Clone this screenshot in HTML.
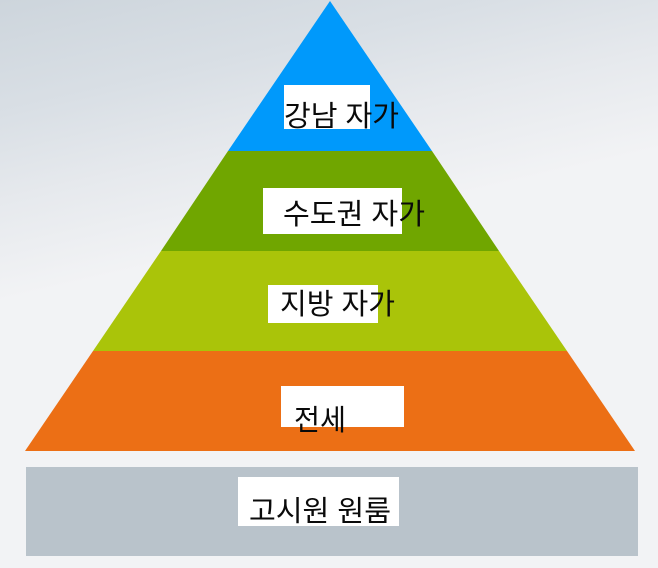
<!DOCTYPE html>
<html lang="ko">
<head>
<meta charset="utf-8">
<style>
html,body{margin:0;padding:0;}
body{width:658px;height:568px;overflow:hidden;position:relative;background:linear-gradient(167deg,#cdd5dc 0%,#d9dfe5 16%,#e6e9ed 28%,#f2f3f5 42%,#f2f3f5 100%);}
svg{position:absolute;left:0;top:0;}
text{font-family:"Liberation Sans","Noto Sans CJK KR","NanumGothic",sans-serif;font-size:29px;fill:#0a0a0a;}
</style>
</head>
<body>
<svg width="658" height="568" viewBox="0 0 658 568" xmlns="http://www.w3.org/2000/svg">
  <polygon points="330,1 432,151 228,151" fill="#0099fb"/>
  <polygon points="228,151 432,151 499,251 161,251" fill="#70a600"/>
  <polygon points="161,251 499,251 567,351 93,351" fill="#aac409"/>
  <polygon points="93,351 567,351 635,451 25,451" fill="#ec6f15"/>
  <rect x="26" y="467" width="612" height="89" fill="#b9c3cb"/>

  <rect x="284" y="85" width="86" height="44" fill="#fff"/>
  <rect x="263" y="188" width="139" height="46" fill="#fff"/>
  <rect x="268" y="285" width="110" height="38" fill="#fff"/>
  <rect x="281" y="386" width="123" height="41" fill="#fff"/>
  <rect x="238" y="477" width="161" height="49" fill="#fff"/>

  <text x="284" y="126" textLength="115" lengthAdjust="spacingAndGlyphs">강남 자가</text>
  <text x="283" y="224" textLength="142" lengthAdjust="spacingAndGlyphs">수도권 자가</text>
  <text x="280" y="314" textLength="115" lengthAdjust="spacingAndGlyphs">지방 자가</text>
  <text x="294" y="430" textLength="52" lengthAdjust="spacingAndGlyphs">전세</text>
  <text x="249" y="521" textLength="142" lengthAdjust="spacingAndGlyphs">고시원 원룸</text>
</svg>
</body>
</html>
